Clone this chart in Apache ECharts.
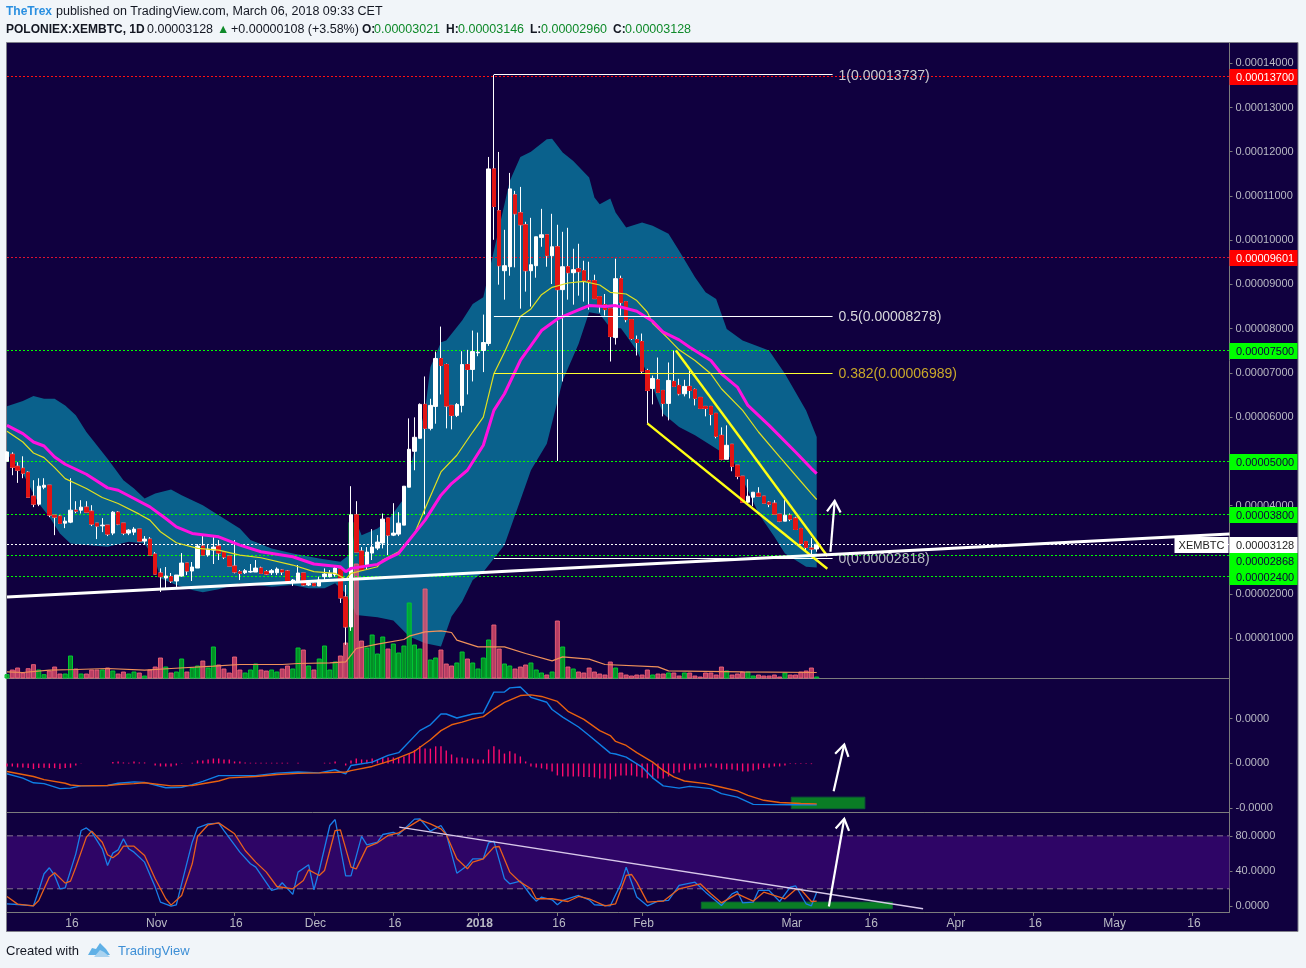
<!DOCTYPE html>
<html><head><meta charset="utf-8"><title>XEMBTC</title>
<style>html,body{margin:0;padding:0;background:#f1f5f9}#c{width:1306px;height:968px}</style>
<script src="https://cdn.jsdelivr.net/npm/echarts@6/dist/echarts.min.js"></script></head>
<body><div id="c"></div><script>
// Prices are in satoshi (1e-8 BTC); one entry per daily bar from 2017-10-04
const opens=[5004,5162,4892,4846,4756,4215,4035,4418,4463,3787,
3764,3606,3629,3899,3899,3967,3877,3606,3546,3561,
3381,3854,3606,3381,3403,3471,3200,3245,2907,2479,
2366,2396,2298,2411,2704,2524,2591,3087,2885,2997,
3087,2952,2862,2636,2509,2486,2501,2501,2591,2509,
2486,2486,2546,2524,2283,2298,2479,2208,2238,2185,
2396,2396,2441,2569,1937,1261,3794,2975,2636,2930,
3042,3155,3719,3335,3358,3561,4418,5230,5523,6290,
5748,6244,7326,7191,6267,6041,6267,7191,7079,7454,
7507,7665,11611,10664,9311,9401,11025,10619,10349,9311,
9424,10063,10123,9650,9852,8883,9401,9266,9356,9311,
9086,9086,8725,8544,8454,7800,9131,8612,8206,7755,
7710,7056,6650,6846,6605,6312,6808,6718,6530,6696,
6628,6447,6244,6244,6087,5590,5049,5388,4914,4666,
4079,4192,4282,4215,4079,4057,3809,3651,3786,3718,
3486,3192,3042,3021];
const closes=[5215,4869,4801,4734,4192,4035,4441,4463,3787,3741,
3599,3651,3899,3877,3967,3854,3584,3539,3561,3358,
3854,3584,3381,3448,3471,3200,3245,2885,2456,2396,
2411,2298,2433,2704,2524,2614,3087,2885,3020,3065,
2930,2839,2636,2501,2471,2531,2516,2591,2471,2456,
2531,2569,2501,2298,2321,2479,2208,2245,2193,2321,
2456,2471,2591,1915,1261,3794,2952,2546,2952,3065,
3178,3696,3335,3381,3606,4441,5275,5546,6290,5749,
6267,7326,7169,6252,6041,6289,7191,7079,7484,7469,
7688,11611,10762,9424,9424,11160,10597,10349,9311,9446,
10078,10123,9650,9852,8883,9401,9266,9334,9289,9086,
9063,8680,8522,8432,7823,9131,8590,8206,7778,7688,
7041,6605,6876,6560,6312,6831,6696,6530,6696,6605,
6425,6199,6199,6064,5568,5049,5365,4891,4666,4079,
4215,4305,4215,4057,4034,3809,3651,3786,3696,3463,
3147,3057,3020,3128];
const highs=[5230,5207,4982,5117,4779,4576,4621,4621,4463,3787,
3787,3741,4621,4102,4125,4102,4012,3606,3719,3561,
3877,3877,3606,3470,3516,3471,3313,3290,2952,2584,
2614,2479,2433,2930,2704,2727,3133,3313,3133,3313,
3223,2952,2862,3223,2546,2569,2682,2772,2621,2546,
2569,2606,2561,2546,2343,2659,2479,2298,2260,2396,
2584,2546,2659,2569,2208,4441,4102,3065,3065,3471,
3335,3824,3719,4057,3854,4441,5974,5997,6312,6921,
6417,7484,8048,7214,6267,6320,7491,7522,7958,7913,
8319,11882,13737,11995,10236,11521,11115,11205,10416,10506,
10078,10709,10123,10597,10349,10190,10281,9807,9920,9536,
9514,9221,8725,8785,8469,9582,9199,8612,8206,7846,
7891,7094,6943,7349,6605,7237,7507,6868,6846,7056,
6650,6447,6244,6244,6087,5771,5816,5388,4914,4666,
4598,4305,4418,4215,4102,4125,3809,4125,3824,3749,
3486,3192,3268,3146];
const lows=[5000,4689,4516,4621,4192,3967,3990,4373,3741,3335,
3599,3493,3606,3832,3824,3854,3539,3245,3403,3313,
3335,3561,3335,3335,3335,3200,3133,2885,2456,2050,
2133,2253,2133,2396,2433,2298,2591,2885,2847,2682,
2772,2794,2636,2471,2320,2456,2486,2501,2456,2441,
2433,2433,2433,2298,2185,2276,2185,2185,2193,2185,
2321,2381,2396,1802,855,1171,2952,2546,2546,2772,
2997,3035,2885,3313,3313,3561,4418,4801,5523,3809,
5703,5853,6515,5748,5725,6004,6109,6515,6808,7379,
7019,7612,10010,8995,8657,9198,9386,8454,8838,8499,
9153,9852,9401,9010,5012,6808,8657,8544,8747,8612,
8431,8680,8364,8297,7259,7642,8297,8146,7748,7395,
6981,5854,6290,6560,6019,5929,6696,6493,6470,6425,
6267,6199,6019,5816,5523,5027,5049,4779,4598,4079,
4034,3989,4215,4057,3967,3809,3629,3651,3651,3463,
3147,2997,2884,2960];
const volumes=[13,27,33,18,31,43,27,13,24,36,
15,15,69,30,15,15,27,27,27,33,
24,15,21,15,21,18,9,27,36,63,
36,18,21,60,21,33,39,54,33,96,
42,30,18,66,27,18,27,45,27,24,
27,21,30,39,30,93,87,39,27,60,
99,27,51,69,108,470,345,114,93,132,
75,126,90,105,78,99,228,102,90,270,
57,63,87,45,39,48,81,60,48,30,
63,117,162,90,45,39,30,36,42,48,
27,18,12,21,174,96,36,30,21,18,
33,21,15,12,51,33,18,12,9,12,
12,27,12,15,15,18,18,9,18,18,
9,6,18,18,12,36,24,12,15,21,
21,9,12,9,9,12,6,18,12,12,
21,24,33,6];
const volumeAverage=[[0,20],[3,18],[8,25],[13,27],[19,30],[26,25],[31,30],[39,37],[44,42],[48,42],[52,42],[55,45],[61,47],[64,50],[66,90],[70,103],[75,117],[76,127],[79,140],[82,143],[84,138],[85,115],[89,95],[94,95],[98,75],[103,53],[105,65],[110,58],[113,42],[123,35],[125,23],[139,20],[153,18]];
const maFast=[[0,5681],[3,5440],[5,5192],[7,5087],[9,4862],[11,4613],[15,4388],[18,4185],[21,4050],[25,3809],[27,3674],[29,3411],[32,3163],[36,3035],[40,2997],[44,2885],[48,2824],[54,2659],[58,2509],[62,2471],[64,2336],[65,2471],[67,2531],[70,2621],[71,2772],[74,2960],[77,3373],[79,3937],[82,4764],[85,5140],[88,5665],[90,6004],[92,6981],[94,7469],[97,8274],[99,8447],[101,8770],[103,8935],[106,9033],[109,9071],[112,8988],[114,8823],[117,8785],[119,8635],[121,8372],[122,8124],[125,7770],[127,7522],[130,7282],[133,6981],[135,6643],[139,6154],[142,5666],[146,5102],[149,4688],[152,4275],[153,4140]];
const maSlow=[[0,5816],[3,5628],[5,5440],[7,5350],[9,5102],[11,4937],[15,4711],[19,4403],[21,4350],[24,4162],[27,3974],[30,3711],[32,3523],[35,3373],[40,3298],[44,3110],[48,2960],[54,2847],[58,2682],[63,2621],[64,2509],[65,2584],[70,2674],[72,2809],[74,2922],[76,3223],[79,3674],[82,4238],[84,4501],[87,4801],[90,5365],[92,6154],[94,6530],[97,7282],[99,7620],[101,7958],[104,8221],[108,8424],[110,8522],[113,8500],[115,8522],[119,8394],[122,8169],[124,7921],[127,7748],[129,7582],[133,7282],[135,6981],[138,6681],[140,6267],[144,5816],[149,5215],[152,4839],[153,4726]];
const bandUpper=[[0,6245],[3,6365],[5,6478],[7,6418],[9,6418],[11,6267],[13,6042],[15,5666],[19,5064],[22,4576],[24,4388],[26,4162],[28,4275],[31,4365],[33,4238],[37,4012],[40,3787],[44,3486],[46,3223],[50,3035],[54,2922],[59,2809],[63,2734],[65,2922],[66,3636],[67,3335],[70,3486],[72,3674],[75,4162],[77,5290],[79,6154],[80,7131],[82,7695],[83,7732],[86,8183],[88,8559],[90,8710],[93,10288],[95,11341],[97,11882],[99,12002],[102,12280],[103,12295],[105,11980],[107,11792],[110,11416],[111,10965],[112,10815],[114,10942],[115,10627],[117,10288],[120,10401],[122,10326],[125,10146],[127,9762],[130,9161],[132,8823],[134,8672],[136,7996],[139,7733],[144,7507],[147,6981],[151,6154],[153,5553]];
const bandLower=[[0,5177],[3,4726],[6,4050],[8,3749],[10,3373],[12,3148],[15,3110],[19,3072],[23,3185],[26,3148],[28,2772],[29,2358],[32,2208],[35,2095],[37,2043],[40,2110],[44,2246],[50,2170],[54,2208],[57,2133],[60,2133],[62,2246],[64,2020],[66,1532],[70,1479],[73,1404],[76,1043],[79,893],[82,817],[84,1494],[86,1832],[88,2321],[90,2501],[94,3110],[97,4125],[99,4801],[102,5402],[105,6831],[108,7657],[110,8371],[112,8334],[114,8018],[116,8011],[117,7846],[119,7507],[121,6981],[122,6681],[124,6079],[127,5778],[130,5590],[133,5365],[137,5064],[140,4350],[142,3824],[145,3298],[147,2922],[151,2621],[153,2606]];
// MACD in units of 1e-7 BTC
const macdLine=[[0,-2.3],[3,-3.26],[5,-4.3],[7,-4.5],[10,-5.6],[12,-5.5],[14,-5],[19,-4.9],[21,-4.4],[24,-4.1],[26,-4.2],[30,-5.4],[33,-5.3],[35,-4.7],[37,-4],[40,-2.7],[47,-2.7],[51,-2.15],[55,-1.9],[59,-2.1],[62,-1.4],[63,-1.9],[64,-2.3],[65,-.45],[69,.3],[72,1.8],[74,2.4],[78,7.3],[80,8.6],[82,11],[83,11],[85,10.1],[88,11],[90,11.25],[92,15.85],[94,15.9],[95,16.8],[97,17],[99,14.7],[102,13.6],[103,12],[105,10.3],[108,8.1],[110,6.2],[114,2.3],[115,2.1],[117,1.4],[120,-.8],[122,-3.2],[124,-5],[127,-5.5],[129,-5.1],[133,-5.6],[135,-6.7],[138,-7.5],[141,-9.1],[148,-9.2],[153,-9.2]];
const macdSignal=[[0,-1.8],[5,-2.9],[7,-3.6],[11,-4.4],[12,-4.8],[14,-5],[19,-4.9],[21,-4.7],[24,-4.5],[26,-4.3],[31,-5],[35,-4.9],[40,-3.9],[42,-3.2],[47,-2.9],[51,-2.45],[55,-2.2],[59,-2.1],[64,-1.9],[65,-1.6],[69,-.67],[73,.81],[77,2.7],[80,5.26],[82,7.3],[84,8.6],[86,9.2],[88,9.9],[90,10.4],[92,12.1],[94,13.6],[97,15.1],[99,15.25],[101,14.9],[104,13.8],[106,11.6],[109,9.8],[112,7.3],[114,6.2],[115,4.9],[117,4],[119,2.4],[122,.3],[124,-1.56],[126,-3],[128,-3.9],[132,-4.5],[135,-5.3],[138,-6.1],[140,-7.1],[143,-8.2],[146,-8.7],[150,-8.9],[153,-9]];
const macdHistogram=[-.67,-.67,-.89,-.89,-1.04,-1.26,-1.04,-.96,-1.04,-1.04,
-1.26,-1.04,-.96,-.44,-.07,0,0,0,0,0,
.3,.44,.22,.15,.44,.22,.22,0,-.44,-.67,
-.67,-.67,-.44,-.07,0,.15,.67,.67,.89,1.1,
1.1,.89,.89,.44,.44,.22,.15,.15,.15,.15,
.15,.15,.15,.15,0,.15,0,0,0,0,
.15,.15,.44,0,-.44,.67,1.1,.89,.81,1.1,
.81,1.33,1.33,1.33,1.2,1.55,2.2,3,3.8,3.3,
3.3,3.8,3.85,2.9,2,1.33,1.33,1.1,1.1,.89,
.89,3.1,3.8,3.1,2.2,2.7,2.2,1.55,.44,-.67,
-.89,-1.1,-1.33,-1.78,-2.67,-2.9,-2.9,-2.9,-2.9,-3.04,
-3.04,-3.1,-3.33,-3.33,-3.56,-2.9,-2.67,-2.67,-2.67,-2.9,
-3.1,-3.33,-3.33,-3.33,-3.33,-2.9,-2.2,-2,-1.56,-1.33,
-1.33,-.96,-.89,-.67,-.96,-1.33,-1.33,-1.33,-1.56,-1.78,
-1.78,-1.56,-1.33,-1.04,-.89,-.67,-.67,-.44,-.15,-.15,
-.15,-.15,-.15,0];
const stochK=[[0,3],[2,2.2],[5,.7],[6,18.1],[7,37],[8,43.8],[9,35.1],[10,20],[11,21.1],[13,59.6],[14,86],[15,89],[16,84.2],[18,65.3],[19,46.4],[20,60.4],[21,64.1],[22,76.6],[23,65.3],[24,61.5],[26,50.2],[28,21.9],[29,4.9],[31,.4],[32,1.9],[33,25.6],[35,72.8],[36,89],[38,93.6],[40,94.4],[41,86],[44,61.5],[46,48.3],[47,44.5],[50,18.1],[51,20],[52,26.8],[54,13.6],[55,38.9],[57,47.2],[58,18.9],[59,40.7],[61,91.7],[62,98.5],[64,34.7],[65,34.7],[67,79.3],[68,69.8],[70,72.8],[71,81.5],[73,83.8],[74,81.5],[77,98.9],[78,99.3],[80,85.3],[82,91.7],[83,82.3],[85,37.7],[87,46.4],[88,54],[90,54],[91,72.1],[92,74],[94,31.3],[95,25.6],[97,28.7],[99,12.4],[100,6],[101,10.6],[103,7.5],[104,1.9],[105,6.8],[108,12.4],[110,7.5],[111,1.9],[114,.7],[116,25.6],[117,44.5],[119,10.6],[121,.7],[123,6],[125,6.8],[127,23.8],[130,27.5],[132,16.2],[135,1.1],[137,14.3],[138,17],[139,4.1],[141,4.9],[142,18.1],[144,18.1],[146,5.6],[148,21.9],[149,23.4],[151,3],[152,.7],[153,16.2]];
const stochD=[[0,11.3],[2,2.6],[5,.7],[6,6.8],[8,33.2],[9,38.1],[11,26.4],[12,28.7],[13,44.5],[15,78.5],[16,85.3],[18,72.8],[19,58.5],[20,55.1],[21,59.6],[22,68.3],[24,68.3],[26,57.7],[28,31.3],[30,8.7],[31,1.5],[33,12.4],[35,48.3],[36,79.3],[38,92.5],[40,94.7],[43,82.3],[45,63.4],[47,50.2],[49,38.9],[51,22.6],[54,20],[56,29.4],[57,41.5],[59,35.1],[60,40.7],[62,86],[63,86.8],[65,44.5],[66,42.6],[68,67.2],[70,72.1],[72,80.4],[74,83.4],[78,98.1],[80,93.6],[82,87.9],[83,81.5],[85,54],[87,42.6],[88,50.2],[90,54],[92,67.2],[93,67.9],[95,38.9],[97,27.5],[99,20],[100,8.7],[103,8.7],[106,5.6],[108,11.3],[110,8.7],[113,.7],[115,3],[117,35.1],[118,36.2],[119,27.5],[121,4.9],[124,6],[127,20],[131,25.6],[133,14.3],[135,4.1],[138,14.3],[141,6],[143,16.2],[147,8.7],[149,19.2],[150,19.2],[152,5.6],[153,6]];
const tickDays=[12,28,43,58,73,89,104,120,148,163,179,194,209,224];
const tickLabels=['16','Nov','16','Dec','16','2018','16','Feb','Mar','16','Apr','16','May','16'];
const priceTicks=[1000,2000,3000,4000,5000,6000,7000,8000,9000,10000,11000,12000,13000,14000];
const macdTicks=[-10,0,10];
const stochTicks=[0,40,80];
const stochBand=[20,80];
const greenLevels=[7500,5000,3800,2868,2400];
const redLevels=[13700,9601];
const lastPrice=[3128];
const fibLevels=[13737,8278,6989,2818];
const fibNames=['1','0.5','0.382','0'];
const fibStartDay=92, fibEndDay=156;
const supportLine=[[0,1938],[231,3358]];
const wedgeUpper=[[126.4,7507],[155,2862]];
const wedgeLower=[[121,5861],[155,2576]];
const arrowMain=[[155.6,2960],[156.4,4109]];
const arrowMacd=[[156.2,-6.2],[158.2,4.2]];
const arrowStoch=[[155.3,0],[158.2,99.3]];
const stochTrend=[[74.1,89.8],[173.1,-2.6]];
const macdZone=[[148.2,-7.5],[162.1,-10.07]];
const stochZone=[[131.2,4.9],[167.3,-2.6]];

const N=232, categories=[];
for(let i=0;i<N;i++){const d=new Date(Date.UTC(2017,9,4+i));categories.push(d.toISOString().slice(0,10));}
const F='"Liberation Sans",Arial,sans-serif';
const BG='#10003f',GRID='#7c7c7c',LBL='#b9b9c4';
function pt(api,d,v){const a=api.coord([0,v]),b=api.coord([100,v]);return [a[0]+(b[0]-a[0])*d/100,a[1]];}
function lineS(name,g,data,color,width,z,extra){return Object.assign({name,type:'line',xAxisIndex:g,yAxisIndex:g,data,symbol:'none',showSymbol:false,silent:true,z,animation:false,lineStyle:{color,width}},extra||{});}
function shapes(name,g,items,z){return {name,type:'custom',xAxisIndex:g,yAxisIndex:g,silent:true,z,animation:false,data:items.map((_,k)=>[k,1]),
 renderItem(p,api){const it=items[p.dataIndex];
  if(it.rect){const a=pt(api,it.rect[0][0],it.rect[0][1]),b=pt(api,it.rect[1][0],it.rect[1][1]);
   return {type:'rect',shape:{x:a[0],y:a[1],width:b[0]-a[0],height:b[1]-a[1]},style:{fill:it.fill,stroke:it.stroke,lineWidth:1}};}
  const pts=it.pts.map(q=>{const r=pt(api,q[0],q[1]);if(it.snap)r[1]=Math.floor(r[1])+.5;return r;});
  const st={stroke:it.stroke,lineWidth:it.w,fill:null};if(it.dash)st.lineDash=it.dash;
  if(it.head){const e=pts[1],s=pts[0],dx=e[0]-s[0],dy=e[1]-s[1],l=Math.hypot(dx,dy),ux=dx/l,uy=dy/l,h=it.head;
   return {type:'group',children:[
    {type:'polyline',shape:{points:pts},style:st},
    {type:'polyline',shape:{points:[[e[0]-ux*h+uy*h*.62,e[1]-uy*h-ux*h*.62],e,[e[0]-ux*h-uy*h*.62,e[1]-uy*h+ux*h*.62]]},style:st}]};}
  return {type:'polyline',shape:{points:pts},style:st};
 }};}
const level=(v,stroke)=>({pts:[[0,v],[N-1,v]],stroke,w:1,dash:[2,2],snap:true});
const tags=[...redLevels.map(v=>({v,bg:'#ff0000',fg:'#ffffff',dy:0})),
 ...greenLevels.map(v=>({v,bg:'#00ff00',fg:'#10003f',dy:v===2868?5:0})),
 ...lastPrice.map(v=>({v,bg:'#ffffff',fg:'#222222',dy:0,sym:'XEMBTC'}))];
const fibColor=['#ffffff','#ffffff','#ffff30','#ffffff'], fibText=['#c9c9cf','#d8d8dc','#c9a82a','#b9b9c4'];
const series=[
 {name:'Band',type:'custom',xAxisIndex:0,yAxisIndex:0,silent:true,z:1,animation:false,data:[[0,1]],
  renderItem(p,api){const pts=bandUpper.map(q=>pt(api,q[0],q[1])).concat(bandLower.slice().reverse().map(q=>pt(api,q[0],q[1])));
   return {type:'polygon',shape:{points:pts},style:{fill:'#0a618c'}};}},
 {name:'Volume',type:'bar',xAxisIndex:1,yAxisIndex:1,barWidth:5,z:2,silent:true,animation:false,clip:true,
  data:volumes.map((v,i)=>({value:v,itemStyle:closes[i]>=opens[i]?{color:'rgba(0,190,30,0.75)',borderColor:'#00c832',borderWidth:1}:{color:'rgba(240,80,112,0.75)',borderColor:'rgba(240,100,120,0.9)',borderWidth:1}}))},
 lineS('Volume average',1,volumeAverage,'#f0915a',1.2,3),
 shapes('Levels',0,[...greenLevels.map(v=>level(v,'#00ff00')),...redLevels.map(v=>level(v,v===13700?'#ff1010':'#e01030')),...lastPrice.map(v=>level(v,'#ffffff'))],3),
 {name:'XEMBTC wicks',type:'candlestick',xAxisIndex:0,yAxisIndex:0,barWidth:4,z:4,silent:true,animation:false,
  itemStyle:{color:'#ffffff',color0:'#ffffff',borderColor:'#ffffff',borderColor0:'#ffffff',borderWidth:1},
  data:opens.map((o,i)=>[o,closes[i],lows[i],highs[i]])},
 {name:'XEMBTC bodies',type:'candlestick',xAxisIndex:0,yAxisIndex:0,barWidth:4,z:5,silent:true,animation:false,
  itemStyle:{color:'#e21414',color0:'#e21414',borderColor:'#e21414',borderColor0:'#e21414',borderWidth:1},
  data:opens.map((o,i)=>closes[i]<o?[o,closes[i],closes[i],o]:'-')},
 lineS('MA fast',0,maFast,'#e0e020',1.2,6),
 lineS('MA slow',0,maSlow,'#ff12e0',3,6),
 shapes('Fibonacci',0,fibLevels.map((v,k)=>({pts:[[fibStartDay,v],[fibEndDay,v]],stroke:fibColor[k],w:1,snap:true})),7),
 {name:'Fibonacci labels',type:'custom',xAxisIndex:0,yAxisIndex:0,silent:true,z:7,animation:false,data:fibLevels.map((_,k)=>[k,1]),
  renderItem(p,api){const k=p.dataIndex,q=pt(api,fibEndDay,fibLevels[k]);
   return {type:'text',x:q[0]+6,y:q[1]+1,style:{text:fibNames[k]+'('+(fibLevels[k]*1e-8).toFixed(8)+')',fill:fibText[k],font:'14px '+F,textAlign:'left',textVerticalAlign:'middle'}};}},
 shapes('Trend lines',0,[{pts:wedgeUpper,stroke:'#ffff14',w:2.4},{pts:wedgeLower,stroke:'#ffff14',w:2.4},{pts:supportLine,stroke:'#ffffff',w:3},{pts:arrowMain,stroke:'#ffffff',w:2.2,head:11}],8),
 {name:'Price tags',type:'custom',xAxisIndex:0,yAxisIndex:0,silent:true,z:20,animation:false,clip:false,data:tags.map((_,k)=>[k,1]),
  renderItem(p,api){const t=tags[p.dataIndex],e=pt(api,N-1,t.v),x=e[0],y=Math.floor(e[1]+t.dy)+1,ch=[
    {type:'rect',shape:{x:x,y:y-8,width:68,height:16},style:{fill:t.bg}},
    {type:'text',x:x+6.5,y:y+.5,style:{text:(t.v*1e-8).toFixed(8),fill:t.fg,font:'11px '+F,textAlign:'left',textVerticalAlign:'middle'}}];
   if(t.sym){ch.push({type:'rect',shape:{x:x-55,y:y-8,width:54,height:16},style:{fill:'#ffffff'}},
    {type:'text',x:x-28,y:y+.5,style:{text:t.sym,fill:'#222222',font:'11px '+F,textAlign:'center',textVerticalAlign:'middle'}});}
   return {type:'group',children:ch};}},
 shapes('MACD zone',2,[{rect:macdZone,fill:'#0a7d25',stroke:'#0b5f34'}],2),
 {name:'MACD histogram',type:'bar',xAxisIndex:2,yAxisIndex:2,barWidth:1.4,z:3,silent:true,animation:false,itemStyle:{color:'#ff0a6c'},data:macdHistogram},
 lineS('MACD',2,macdLine,'#0f7fe6',1.4,4),
 lineS('Signal',2,macdSignal,'#e8600f',1.4,5),
 shapes('MACD arrow',2,[{pts:arrowMacd,stroke:'#ffffff',w:2.2,head:11}],8),
 lineS('Stoch band',3,[[0,50],[N-1,50]],'rgba(0,0,0,0)',0,1,{markArea:{silent:true,itemStyle:{color:'#2e0566'},data:[[{yAxis:stochBand[1]},{yAxis:stochBand[0]}]]}}),
 ...stochBand.map(v=>lineS('Stoch level '+v,3,[[0,v],[N-1,v]],'#86768f',1,2,{lineStyle:{color:'#86768f',width:1,type:[6,4]}})),
 shapes('Stoch zone',3,[{rect:stochZone,fill:'#0a7d25',stroke:'#0b5f34'}],2),
 lineS('%K',3,stochK,'#1a7fe8',1.3,4),
 lineS('%D',3,stochD,'#e8601c',1.3,5),
 shapes('Stoch drawings',3,[{pts:stochTrend,stroke:'#d8c8ea',w:1.3},{pts:arrowStoch,stroke:'#ffffff',w:2.2,head:11}],8)
];
const L=7,W=1222.5;
const grids=[{left:L,width:W,top:43,height:635.5},{left:L,width:W,top:478.5,height:200},{left:L,width:W,top:679,height:133},{left:L,width:W,top:812,height:100}];
const isTick=i=>tickDays.indexOf(i)>=0;
const xAxes=grids.map((g,k)=>({type:'category',gridIndex:k,data:categories,boundaryGap:false,show:k!==1,
 axisLine:{show:k!==1,onZero:false,lineStyle:{color:GRID,width:1}},splitLine:{show:false},
 axisTick:{show:k===3,length:4,interval:i=>isTick(i),lineStyle:{color:GRID}},
 axisLabel:k===3?{show:true,interval:i=>isTick(i),margin:6,padding:[0,0,0,3],color:LBL,fontFamily:F,fontSize:12,
  formatter:(v,i)=>{const t=tickLabels[tickDays.indexOf(i)];return t==='2018'?'{b|2018}':t;},rich:{b:{fontWeight:'bold',color:LBL,fontFamily:F,fontSize:12}}}:{show:false}}));
function yA(k,min,max,ticks,fmt){return {type:'value',gridIndex:k,position:'right',min,max,scale:true,splitLine:{show:false},
 axisLine:{show:true,onZero:false,lineStyle:{color:GRID}},axisTick:{show:true,length:3,customValues:ticks,lineStyle:{color:GRID}},
 axisLabel:{show:true,customValues:ticks,formatter:fmt,color:LBL,fontFamily:F,fontSize:11,margin:6}};}
const yAxes=[yA(0,95,14457,priceTicks,v=>(v*1e-8).toFixed(8)),
 {type:'value',gridIndex:1,min:0,max:600,show:false},
 yA(2,-10.8,18.78,macdTicks,v=>(v*1e-7).toFixed(4)),
 yA(3,-6.3,107,stochTicks,v=>v.toFixed(4))];
const T=(text,x,y,fill,bold,size)=>({type:'text',z:30,x,y,silent:true,style:{text,x:0,y:0,fill,font:(bold?'bold ':'')+(size||12.5)+'px '+F,textVerticalAlign:'middle'}});
const G='#0f8a2a';
const graphic=[
 {type:'rect',z:-5,silent:true,shape:{x:6.5,y:42.5,width:1291.5,height:889},style:{fill:BG,stroke:'#7f7f8a',lineWidth:1}},
 T('TheTrex',6,12,'#2a8fe0',true,12),T('published on TradingView.com, March 06, 2018 09:33 CET',56,12,'#131722'),
 T('POLONIEX:XEMBTC, 1D',6,30,'#131722',true,12),T('0.00003128',147,30,'#131722'),T('▲',217,30,G),T('+0.00000108 (+3.58%)',231,30,'#131722'),
 T('O:',362,30,'#131722',true,12),T('0.00003021',374,30,G),T('H:',446,30,'#131722',true,12),T('0.00003146',458,30,G),
 T('L:',530,30,'#131722',true,12),T('0.00002960',541,30,G),T('C:',613,30,'#131722',true,12),T('0.00003128',625,30,G),
 T('Created with',6,951,'#131722',false,13),T('TradingView',118,951,'#3d8fd6',false,13),
 {type:'polygon',z:30,silent:true,shape:{points:[[88,955],[92,948],[96,949],[100,943],[106,949],[110,955]]},style:{fill:'#5fb0e6'}},
 {type:'polygon',z:30,silent:true,shape:{points:[[94,957],[100,950],[104,952],[110,957]]},style:{fill:'#a9d3f0'}}
];
const chart=echarts.init(document.getElementById('c'),null,{renderer:'canvas'});
chart.setOption({animation:false,backgroundColor:'#f1f5f9',textStyle:{fontFamily:F},grid:grids,xAxis:xAxes,yAxis:yAxes,series,graphic,tooltip:{show:false}});
</script></body></html>
